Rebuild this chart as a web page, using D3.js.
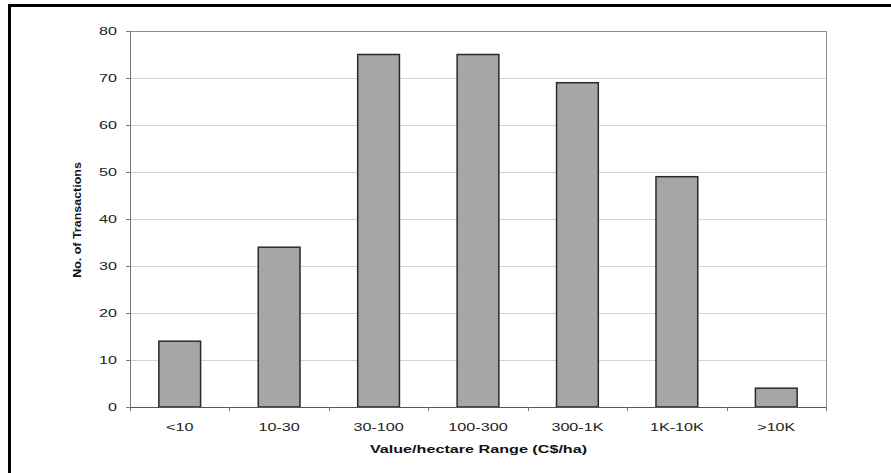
<!DOCTYPE html>
<html lang="en">
<head>
  <meta charset="UTF-8">
  <title>Transactions by Value/hectare Range</title>
  <script src="https://d3js.org/d3.v7.min.js"></script>
  <style>
    body { margin: 0; background: #fff; }
    svg { display: block; font-family: "Liberation Sans", Arial, sans-serif; }
    .frame { fill: none; stroke: #000; stroke-width: 3; }
    .grid line { stroke: #d2d2d2; stroke-width: 1; }
    .bar { fill: #a6a6a6; stroke: #2a2a2a; stroke-width: 1.5; }
    .tick text { fill: #222; font-size: 11px; }
    .axis-title { font-size: 11px; font-weight: bold; fill: #111; }
  </style>
</head>
<body>
<svg id="chart" width="891" height="473"></svg>
<script>
  // Chart data
  const categories = ["<10", "10-30", "30-100", "100-300", "300-1K", "1K-10K", ">10K"];
  const transactions = [14, 34, 75, 75, 69, 49, 4];
  const yTicks = [0, 10, 20, 30, 40, 50, 60, 70, 80];

  const svg = d3.select("#chart");
  const margin = {top: 31, right: 65, bottom: 66, left: 130};
  const width = 891 - margin.left - margin.right;
  const height = 473 - margin.top - margin.bottom;
  const stretch = 1.47; // the source text is set wide

  // outer frame (only left and top show in the picture)
  svg.append("rect")
    .attr("class", "frame")
    .attr("x", 9.5).attr("y", 5.5)
    .attr("width", 900).attr("height", 480);

  const g = svg.append("g").attr("transform", `translate(${margin.left},${margin.top})`);

  const x = d3.scaleBand().domain(categories).range([0, width]).paddingInner(0.58).paddingOuter(0.29);
  const y = d3.scaleLinear().domain([0, 80]).range([height, 0]);

  // gridlines
  g.append("g")
    .attr("class", "grid")
    .selectAll("line")
    .data(yTicks.filter(d => d > 0))
    .enter().append("line")
    .attr("x1", 0).attr("x2", width)
    .attr("y1", d => Math.round(y(d)) + 0.5)
    .attr("y2", d => Math.round(y(d)) + 0.5);

  // plot area border
  g.append("rect")
    .attr("x", 0.5).attr("y", 0.5)
    .attr("width", width).attr("height", height)
    .attr("fill", "none").attr("stroke", "#8c8c8c");

  // bars
  g.selectAll(".bar")
    .data(transactions)
    .enter().append("rect")
    .attr("class", "bar")
    .attr("x", (d, i) => x(categories[i]))
    .attr("y", d => y(d))
    .attr("width", x.bandwidth())
    .attr("height", d => height - y(d));

  // y axis
  const yAxis = g.append("g")
    .call(d3.axisLeft(y).tickValues(yTicks).tickSize(4));
  yAxis.select(".domain").attr("stroke", "#777");
  yAxis.selectAll(".tick line").attr("stroke", "#777");
  yAxis.selectAll(".tick text")
    .attr("x", 0)
    .attr("transform", `translate(-13,0) scale(${stretch},1)`);

  // x axis, ticks sit between the categories
  const xAxis = g.append("g")
    .attr("transform", `translate(0,${height})`)
    .call(d3.axisBottom(x).tickSize(0).tickPadding(16));
  xAxis.select(".domain").attr("stroke", "#555");
  xAxis.selectAll(".tick text").attr("transform", `scale(${stretch},1)`);
  xAxis.selectAll(".sep")
    .data(d3.range(categories.length + 1))
    .enter().append("line")
    .attr("x1", i => Math.round(i * width / categories.length) + 0.5)
    .attr("x2", i => Math.round(i * width / categories.length) + 0.5)
    .attr("y1", 0).attr("y2", 4)
    .attr("stroke", "#777");

  // axis titles
  g.append("text")
    .attr("class", "axis-title")
    .attr("transform", `translate(${width / 2 + 0.5},${height + 46}) scale(${stretch},1)`)
    .attr("text-anchor", "middle")
    .text("Value/hectare Range (C$/ha)");

  g.append("text")
    .attr("class", "axis-title")
    .attr("transform", `translate(${-49},${height / 2 + 1}) rotate(-90) scale(1.25,1)`)
    .attr("text-anchor", "middle")
    .style("font-size", "10px")
    .text("No. of Transactions");
</script>
</body>
</html>
